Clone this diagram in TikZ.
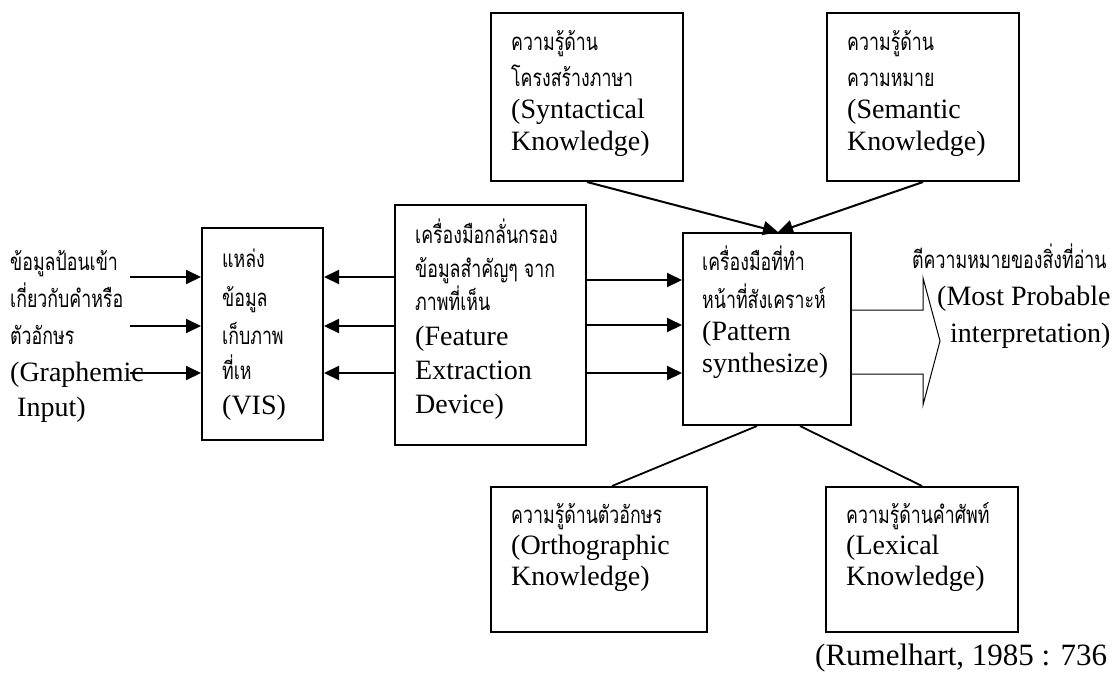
\documentclass[tikz,border=0pt]{standalone}
\usepackage{fontspec}
\setmainfont{Liberation Serif}
\newfontfamily\thaifont[Script=Thai,FakeStretch=0.74]{Loma}
\usetikzlibrary{arrows.meta,calc}

% one line of Thai / Latin text
\newcommand\thl[1]{\hbox{\thaifont\fontsize{24}{24}\selectfont #1}}
\newcommand\lal[1]{\hbox{\fontsize{28}{28}\selectfont #1}}
% distance to the next baseline
\newcommand\lgap[1]{\baselineskip=#1pt\relax}
% a stack of lines whose reference point is the first baseline
\newcommand\linestack[1]{\vtop{\lineskiplimit=-1000pt\lineskip=0pt\relax #1}}

\begin{document}
\begin{tikzpicture}[x=1pt,y=-1pt,
  box/.style={draw,line width=2pt,inner sep=0pt,minimum width=#1},
  txt/.style={anchor=base west,inner sep=0pt},
  arr/.style={line width=2pt,-{Triangle[length=15pt,width=14pt]}},
  link/.style={line width=1.8pt},
  hollow/.style={line width=1pt}]

\fill[white] (0,0) rectangle (1113,673);
\useasboundingbox (0,0) rectangle (1113,673);

% boxes
\node[box=121pt,minimum height=212pt] (vis)  at (262.5,334) {};
\node[box=191pt,minimum height=240pt] (feat) at (490.5,325) {};
\node[box=168pt,minimum height=192pt] (pat)  at (767,329) {};
\node[box=192pt,minimum height=168pt] (syn)  at (587,97) {};
\node[box=192pt,minimum height=168pt] (sem)  at (923,97) {};
\node[box=216pt,minimum height=145pt] (orth) at (599,559.5) {};
\node[box=192pt,minimum height=145pt] (lex)  at (922,559.5) {};

% texts
\node[txt] (intxt) at (10,270) {\linestack{\lgap{37}\thl{ข้อมูลป้อนเข้า}\thl{เกี่ยวกับคำหรือ}\thl{ตัวอักษร}\lal{(Graphemic}\lgap{35}\lal{\ Input)}}};
\node[txt] (vistxt) at (222,267) {\linestack{\lgap{38}\thl{แหล่ง}\lgap{39}\thl{ข้อมูล}\lgap{38}\thl{เก็บภาพ}\lgap{35}\thl{ที่เห}\lal{(VIS)}}};
\node[txt] (feattxt) at (415,243) {\linestack{\lgap{39}\thl{เครื่องมือกลั่นกรอง}\lgap{34}\thl{ข้อมูลสำคัญๆ จาก}\lgap{33}\thl{ภาพที่เห็น}\lgap{35}\lal{(Feature}\lgap{34}\lal{Extraction}\lal{Device)}}};
\node[txt] (pattxt) at (702,270) {\linestack{\lgap{38}\thl{เครื่องมือที่ทำ}\thl{หน้าที่สังเคราะห์}\lgap{32}\lal{(Pattern}\lal{synthesize)}}};
\node[txt] (syntxt) at (511,50) {\linestack{\lgap{39}\thl{ความรู้ด้าน}\lgap{36}\thl{โครงสร้างภาษา}\lgap{32}\lal{(Syntactical}\lal{Knowledge)}}};
\node[txt] (semtxt) at (847,50) {\linestack{\lgap{39}\thl{ความรู้ด้าน}\lgap{36}\thl{ความหมาย}\lgap{32}\lal{(Semantic}\lal{Knowledge)}}};
\node[txt] (orthtxt) at (511,523) {\linestack{\lgap{39}\thl{ความรู้ด้านตัวอักษร}\lgap{31}\lal{(Orthographic}\lal{Knowledge)}}};
\node[txt] (lextxt) at (846,523) {\linestack{\lgap{39}\thl{ความรู้ด้านคำศัพท์}\lgap{31}\lal{(Lexical}\lal{Knowledge)}}};
\node[txt] (outtxt) at (912,268) {\linestack{\lgap{42}\thl{ตีความหมายของสิ่งที่อ่าน}\lgap{37}\lal{\kern25pt(Most Probable}\lal{\kern38pt interpretation)}}};
\node[txt] (src) at (815,665) {\fontsize{31}{31}\selectfont (Rumelhart, 1985 : 736};

% rows of the horizontal arrows
\coordinate (in1) at (130,277);
\coordinate (in2) at (130,326);
\coordinate (in3) at (130,373);
\coordinate (out1) at (0,280);
\coordinate (out2) at (0,325);
\coordinate (out3) at (0,373);

% graphemic input into the store
\foreach \r in {in1,in2,in3}
  \draw[arr] (\r) -- (\r -| vis.west);
% feature extraction back to the store
\foreach \r in {in1,in2,in3}
  \draw[arr] (feat.west |- \r) -- (vis.east |- \r);
% feature extraction to the pattern synthesizer
\foreach \r in {out1,out2,out3}
  \draw[arr] (feat.east |- \r) -- (pat.west |- \r);

% knowledge sources
\draw[arr] (syn.south) -- ([xshift=11pt]pat.north);
\draw[arr] (sem.south) -- ([xshift=11pt]pat.north);
\draw[link] ([xshift=13pt]orth.north) -- ([xshift=-10pt]pat.south);
\draw[link] (lex.north) -- ([xshift=33pt]pat.south);

% block arrow towards the interpretation
\draw[hollow] (pat.east |- 0,310) -- (923,310) -- (923,278) -- (940,341)
  -- (923,405) -- (923,374) -- (pat.east |- 0,374);
\end{tikzpicture}
\end{document}
